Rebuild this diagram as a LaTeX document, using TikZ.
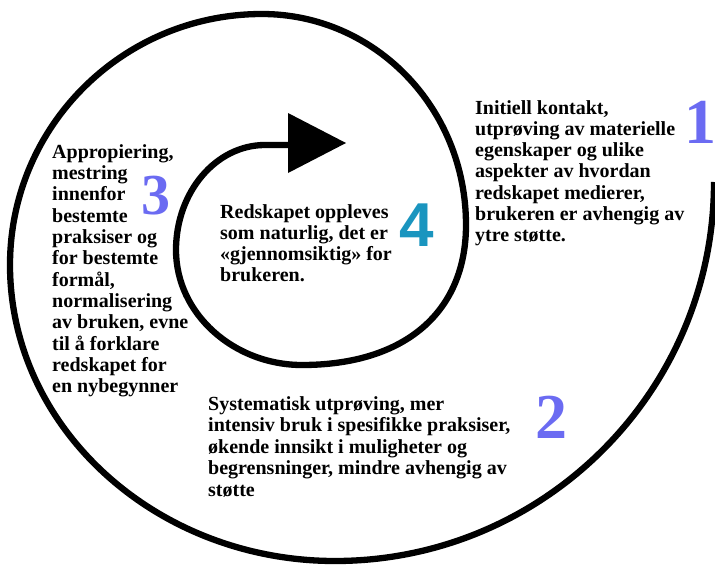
\documentclass[tikz,border=0pt]{standalone}
\usepackage{fontspec}
\newfontfamily\numserif{Liberation Serif}
\newfontfamily\numsans{Liberation Sans}
\definecolor{numblue}{HTML}{6B6BF2}
\definecolor{numteal}{HTML}{1A95BF}
\tikzset{
  txt/.style={anchor=base west, inner sep=0pt, font=\fontsize{20}{21}\selectfont\numserif\bfseries},
  numsty/.style={anchor=base, inner sep=0pt, font=\fontsize{64}{64}\selectfont\numserif\bfseries, text=numblue},
  spiralline/.style={line width=6.3pt, line join=round},
}
\begin{document}
\begin{tikzpicture}[x=1pt,y=-1pt]
\useasboundingbox (0,0) rectangle (715,565);
% key points of the spiral
\coordinate (r0) at (714,182);
\coordinate (b0) at (335,561);
\coordinate (l0) at (10,265);
\coordinate (t0) at (262,14);
\coordinate (r1) at (466,225);
\coordinate (b1) at (302,365);
\coordinate (l1) at (176,250);
\coordinate (t1) at (265,145);
\coordinate (e1) at (292,145);
\draw[spiralline] (r0)
  .. controls (714,391) and (544,561) .. (b0)
  .. controls (156,561) and (10,428) .. (l0)
  .. controls (10,126) and (123,14) .. (t0)
  .. controls (375,14) and (466,108) .. (r1)
  .. controls (466,312) and (405,365) .. (b1)
  .. controls (234,365) and (176,314) .. (l1)
  .. controls (176,192) and (216,145) .. (t1)
  -- (e1);
% arrow head
\fill (288,113) -- (346,143) -- (288,173) -- cycle;
% texts
\foreach \t [count=\i] in {{Initiell kontakt,},{utprøving av materielle},{egenskaper og ulike},{aspekter av hvordan},{redskapet medierer,},{brukeren er avhengig av},{ytre støtte.}}
  \node[txt] (a\i) at (475,{114+(\i-1)*21.3}) {\t};
\foreach \t [count=\i] in {{Systematisk utprøving, mer},{intensiv bruk i spesifikke praksiser,},{økende innsikt i muligheter og},{begrensninger, mindre avhengig av},{støtte}}
  \node[txt] (b\i) at (208,{410+(\i-1)*21.5}) {\t};
\foreach \t [count=\i] in {{Appropiering,},{mestring},{innenfor},{bestemte},{praksiser og},{for bestemte},{formål,},{normalisering},{av bruken, evne},{til å forklare},{redskapet for},{en nybegynner}}
  \node[txt] (c\i) at (52,{158+(\i-1)*21.35}) {\t};
\foreach \t [count=\i] in {{Redskapet oppleves},{som naturlig, det er},{«gjennomsiktig» for},{brukeren.}}
  \node[txt] (d\i) at (220,{218+(\i-1)*21}) {\t};
% numbers
\node[numsty] (n1) at (700,143) {1};
\node[numsty] (n2) at (551,438) {2};
\node[numsty, font=\fontsize{58}{58}\selectfont\numserif\bfseries] (n3) at (156,214) {3};
\node[numsty, font=\fontsize{62}{62}\selectfont\numsans\bfseries, text=numteal] (n4) at (417,246) {4};
\end{tikzpicture}
\end{document}
